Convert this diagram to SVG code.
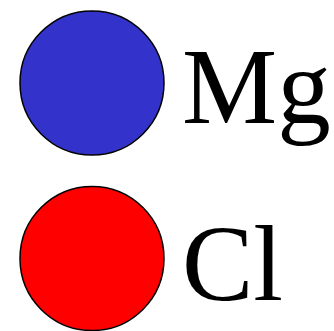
<svg xmlns="http://www.w3.org/2000/svg" width="334" height="331" viewBox="0 0 334 331">
<style>
.atom{stroke:#000;stroke-width:1.5}
.lbl{font-family:"Liberation Serif","Times New Roman",serif;font-size:107px;fill:#000}
</style>
<rect width="334" height="331" fill="#fff"/>
<g id="mg">
<circle class="atom" cx="92" cy="83" r="72" fill="#3333CC"/>
<text class="lbl" x="182" y="123">Mg</text>
</g>
<g id="cl">
<circle class="atom" cx="92" cy="258.5" r="72" fill="#FF0000"/>
<text class="lbl" x="182" y="300">Cl</text>
</g>
<g id="connectors"/>
</svg>
